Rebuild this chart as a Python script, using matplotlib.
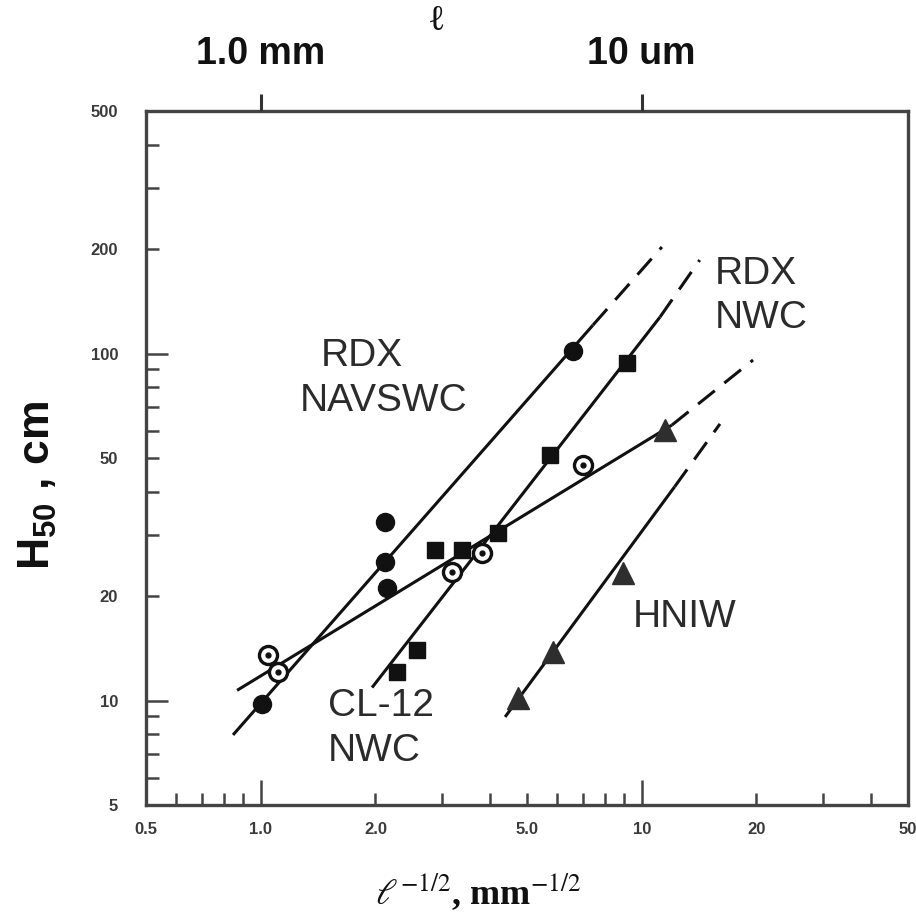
import matplotlib
matplotlib.use("Agg")
import matplotlib.pyplot as plt
from matplotlib.ticker import FixedLocator, FuncFormatter

# ---- drop-weight impact data: H50 against inverse square root of particle size ----
navswc_x = [1.01, 2.12, 2.12, 6.6]
navswc_y = [9.8, 25.0, 32.7, 102.0]

square_x = [2.28, 2.57, 2.87, 3.38, 4.20, 5.75, 9.15]
square_y = [12.1, 14.0, 27.2, 27.2, 30.4, 51.0, 94.0]

ring_x = [1.045, 1.11, 3.18, 3.81, 7.0]
ring_y = [13.5, 12.1, 23.5, 26.6, 47.7]

solid_dot_x = [2.15]
solid_dot_y = [21.1]

hniw_x = [4.74, 5.85, 8.93, 11.5]
hniw_y = [10.2, 13.8, 23.3, 60.2]

# trend lines: [start, end of fitted range, end of extrapolation]
fit_navswc_x = [0.846, 7.45, 11.3]
fit_navswc_y = [7.96, 120.8, 202.8]
fit_cl12_x = [1.96, 11.17, 14.2]
fit_cl12_y = [10.9, 127.4, 186.0]
fit_rdxnwc_x = [0.867, 12.0, 19.6]
fit_rdxnwc_y = [10.7, 62.2, 95.8]
fit_hniw_x = [4.38, 12.2, 16.05]
fit_hniw_y = [8.97, 41.3, 62.7]

x_minor = [0.5, 0.6, 0.7, 0.8, 0.9, 2, 3, 4, 5, 6, 7, 8, 9, 20, 30, 40, 50]
x_major = [1, 10]
x_labels = {0.5: "0.5", 1: "1.0", 2: "2.0", 5: "5.0", 10: "10", 20: "20", 50: "50"}
y_minor = [5, 6, 7, 8, 9, 20, 30, 40, 50, 60, 70, 80, 90, 200, 300, 400, 500]
y_major = [10, 100]
y_labels = {5: "5", 10: "10", 20: "20", 50: "50", 100: "100", 200: "200", 500: "500"}
top_ticks = [1, 10]
top_labels = ["1.0 mm", "10 um"]

W, H = 916, 924
INK = "#111111"
GREY = "#3a3a3a"

plt.rcParams["font.family"] = ["Liberation Sans", "DejaVu Sans"]
plt.rcParams["mathtext.fontset"] = "custom"
plt.rcParams["mathtext.rm"] = "Liberation Sans:bold"
plt.rcParams["mathtext.bf"] = "Liberation Sans:bold"
plt.rcParams["mathtext.it"] = "Liberation Sans:bold"

fig = plt.figure(figsize=(W / 100, H / 100), dpi=100)
fig.patch.set_facecolor("white")
ax = fig.add_axes([146 / W, 1 - 805 / H, 762 / W, 694 / H])
ax.set_xscale("log")
ax.set_yscale("log")
ax.set_xlim(0.5, 50)
ax.set_ylim(5, 500)

lw = 2.2
for fx, fy in [(fit_navswc_x, fit_navswc_y), (fit_cl12_x, fit_cl12_y),
               (fit_rdxnwc_x, fit_rdxnwc_y), (fit_hniw_x, fit_hniw_y)]:
    ax.plot(fx[:2], fy[:2], color=INK, lw=lw, solid_capstyle="butt", zorder=2)
    ax.plot(fx[1:], fy[1:], color=INK, lw=lw, dashes=(7, 4), zorder=2)

ax.plot(navswc_x, navswc_y, ls="none", marker="o", ms=13, color=INK, zorder=3)
ax.plot(solid_dot_x, solid_dot_y, ls="none", marker="o", ms=13, color=INK, zorder=3)
ax.plot(square_x, square_y, ls="none", marker="s", ms=12, color=INK, zorder=3)
ax.plot(ring_x, ring_y, ls="none", marker="o", ms=13, mfc="white", mec=INK,
        mew=2.4, zorder=3)
ax.plot(ring_x, ring_y, ls="none", marker="o", ms=3.5, color=INK, zorder=4)
ax.plot(hniw_x, hniw_y, ls="none", marker="^", ms=16, color="#2e2e2e", zorder=3)

for s in ax.spines.values():
    s.set_linewidth(2.4)
    s.set_color("#444444")

ax.xaxis.set_major_locator(FixedLocator(x_major))
ax.xaxis.set_minor_locator(FixedLocator(x_minor))
ax.yaxis.set_major_locator(FixedLocator(y_major))
ax.yaxis.set_minor_locator(FixedLocator(y_minor))
xf = FuncFormatter(lambda v, p: x_labels.get(round(v, 2) if v < 1 else round(v), ""))
yf = FuncFormatter(lambda v, p: y_labels.get(round(v), ""))
for axis, fmt in [(ax.xaxis, xf), (ax.yaxis, yf)]:
    axis.set_major_formatter(fmt)
    axis.set_minor_formatter(fmt)

ax.tick_params(which="both", direction="in", top=False, right=False,
               width=1.8, color="#444444", labelcolor=GREY)
ax.tick_params(axis="x", which="major", length=18, labelsize=12, pad=12)
ax.tick_params(axis="x", which="minor", length=9, labelsize=12, pad=12)
ax.tick_params(axis="y", which="major", length=16, labelsize=12, pad=20)
ax.tick_params(axis="y", which="minor", length=9, labelsize=12, pad=20)
for lab in ax.get_xticklabels(which="both") + ax.get_yticklabels(which="both"):
    lab.set_fontweight("bold")

# particle size scale along the top edge
ax2 = ax.twiny()
ax2.set_xscale("log")
ax2.set_xlim(ax.get_xlim())
ax2.xaxis.set_major_locator(FixedLocator(top_ticks))
ax2.xaxis.set_minor_locator(FixedLocator([]))
ax2.set_xticklabels(top_labels, fontsize=27, fontweight="bold", color=INK)
ax2.tick_params(axis="x", direction="out", length=12, width=2.2, pad=16,
                color="#333333")
for s in ax2.spines.values():
    s.set_visible(False)

fig.text(437 / W, 1 - 5 / H, "\u2113", ha="center", va="top", fontsize=26,
         family=["Liberation Serif", "DejaVu Serif"], color=INK)

fig.text(38 / W, 1 - 485 / H, r"H$_{50}$ , cm", rotation=90, ha="center",
         va="center", fontsize=32, fontweight="bold", color=INK)
fig.text(478 / W, 1 - 892 / H, r"$\ell^{-1/2}$, mm$^{-1/2}$", ha="center",
         va="center", fontsize=26, fontweight="bold", color=INK,
         family=["Liberation Serif", "DejaVu Serif"], math_fontfamily="stix")

label_kw = dict(fontsize=28, color="#2b2b2b", va="center")
fig.text(362 / W, 1 - 356 / H, "RDX", ha="center", **label_kw)
fig.text(384 / W, 1 - 401 / H, "NAVSWC", ha="center", **label_kw)
fig.text(715 / W, 1 - 274 / H, "RDX", ha="left", **label_kw)
fig.text(715 / W, 1 - 318 / H, "NWC", ha="left", **label_kw)
fig.text(328 / W, 1 - 706 / H, "CL-12", ha="left", **label_kw)
fig.text(328 / W, 1 - 751 / H, "NWC", ha="left", **label_kw)
fig.text(633 / W, 1 - 617 / H, "HNIW", ha="left", **label_kw)

fig.savefig("out.png", dpi=100)
